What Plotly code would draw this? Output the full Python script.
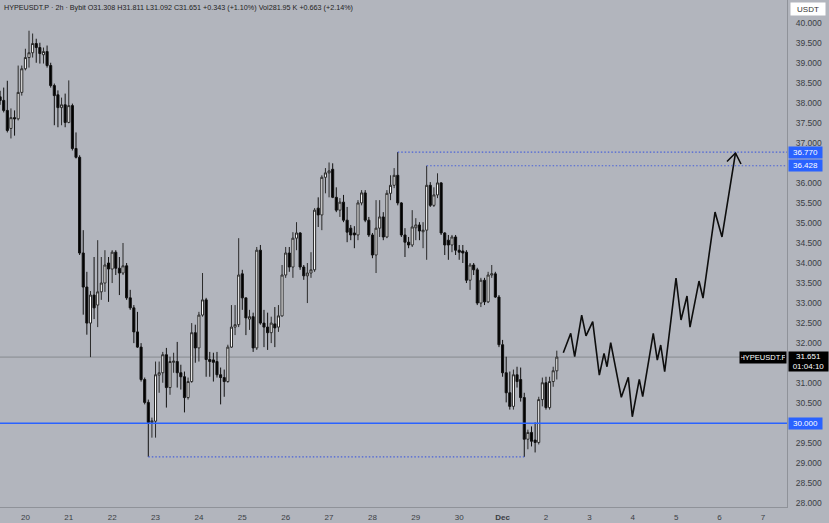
import plotly.graph_objects as go
import pandas as pd

# ---------------- data ----------------
start_time = "2025-11-19 10:00"   # first 2h candle
opens = [38.15, 38.06, 37.81, 37.36, 37.63, 37.60, 38.26, 38.85, 39.13, 39.25,
         39.48, 39.38, 39.20, 39.28, 38.93, 38.43, 38.20, 37.88, 37.95, 37.51,
         37.93, 36.86, 36.64, 34.25, 33.40, 32.50, 33.20, 32.95, 33.28, 33.50,
         34.00, 33.85, 34.27, 33.87, 33.75, 33.93, 33.13, 32.88, 32.28, 31.90,
         31.09, 30.52, 30.02, 30.05, 31.20, 31.26, 31.71, 30.89, 31.52, 31.54,
         31.26, 31.16, 30.64, 31.04, 32.26, 31.88, 32.70, 33.08, 31.59, 31.58,
         31.54, 31.21, 31.14, 31.04, 31.90, 32.40, 32.46, 33.73, 33.13, 32.60,
         32.66, 31.88, 34.32, 32.50, 32.40, 32.26, 32.48, 32.40, 32.68, 33.70,
         34.25, 33.90, 34.62, 34.75, 33.90, 33.68, 33.75, 33.83, 35.37, 35.20,
         36.14, 36.25, 36.34, 35.64, 35.32, 35.52, 35.07, 34.87, 34.75, 34.70,
         35.50, 35.75, 35.07, 34.70, 34.20, 34.87, 35.15, 34.65, 35.74, 35.94,
         36.19, 35.50, 34.70, 34.52, 34.45, 34.88, 34.95, 34.78, 34.82, 35.94,
         35.44, 35.70, 36.00, 34.75, 34.57, 34.45, 34.65, 34.32, 34.30, 34.27,
         33.57, 33.95, 33.83, 33.00, 33.57, 33.03, 33.70, 33.73, 33.15, 31.96,
         31.26, 30.76, 30.42, 31.21, 31.09, 30.64, 29.60, 29.77, 29.58, 29.52,
         30.59, 31.01, 30.39, 31.04, 31.308]
highs = [38.30, 38.38, 38.55, 37.86, 37.81, 38.93, 38.93, 39.35, 39.80, 39.73,
         39.60, 39.50, 39.38, 39.43, 39.00, 38.48, 38.31, 38.13, 38.23, 38.56,
         37.98, 37.26, 36.69, 34.82, 33.78, 33.30, 34.15, 34.57, 34.15, 34.32,
         34.15, 34.32, 34.32, 34.15, 34.50, 34.00, 33.33, 32.95, 32.78, 32.00,
         31.14, 30.59, 30.14, 31.54, 31.54, 31.78, 31.88, 31.66, 31.76, 32.03,
         31.46, 31.29, 31.14, 32.50, 32.46, 32.78, 33.75, 33.13, 31.78, 31.76,
         31.78, 31.39, 31.34, 31.96, 32.95, 32.95, 34.62, 33.83, 33.13, 32.83,
         32.76, 34.40, 34.45, 32.83, 32.76, 32.66, 32.90, 32.95, 33.95, 34.40,
         34.40, 34.77, 35.02, 34.77, 33.95, 34.00, 34.27, 35.37, 35.64, 36.19,
         36.37, 36.51, 36.49, 35.89, 35.62, 35.70, 35.40, 34.95, 34.92, 35.57,
         35.82, 35.82, 35.15, 34.75, 35.57, 35.57, 35.27, 35.82, 36.19, 36.37,
         36.77, 35.52, 34.87, 34.65, 35.32, 35.12, 35.02, 35.02, 36.428, 36.02,
         35.89, 36.24, 36.02, 34.77, 34.70, 34.70, 34.70, 34.45, 34.45, 34.32,
         34.00, 34.00, 33.88, 33.63, 33.63, 33.78, 33.95, 33.78, 33.20, 32.08,
         31.66, 31.29, 31.34, 31.41, 31.39, 30.76, 29.84, 29.92, 30.02, 30.66,
         31.14, 31.16, 31.16, 31.41, 31.811]
lows = [37.95, 37.76, 37.26, 37.11, 37.18, 37.56, 38.18, 38.81, 38.88, 39.13,
        39.00, 38.98, 38.98, 38.88, 38.38, 37.44, 37.39, 37.44, 37.39, 37.49,
        36.81, 36.61, 34.20, 32.71, 32.21, 31.65, 32.60, 32.40, 33.08, 33.28,
        33.03, 33.50, 33.70, 33.20, 33.70, 33.08, 32.83, 32.00, 31.88, 31.04,
        30.47, 29.16, 29.64, 29.64, 30.76, 31.01, 30.39, 30.71, 31.26, 30.89,
        30.84, 30.27, 30.59, 31.01, 31.51, 31.54, 32.66, 31.16, 31.16, 31.04,
        31.14, 30.47, 30.66, 31.01, 31.88, 32.20, 32.40, 32.83, 32.20, 32.33,
        31.78, 31.83, 32.46, 31.90, 31.83, 32.00, 31.90, 32.28, 32.66, 33.63,
        33.78, 33.63, 34.32, 33.83, 33.58, 33.00, 33.63, 33.78, 34.90, 34.82,
        35.74, 35.64, 35.62, 35.27, 35.15, 35.02, 34.52, 34.57, 34.37, 34.57,
        35.44, 35.02, 34.65, 34.12, 33.75, 34.65, 34.57, 34.62, 35.57, 35.87,
        35.44, 34.65, 34.15, 34.37, 34.40, 34.57, 34.57, 34.37, 34.08, 35.40,
        35.40, 35.62, 34.70, 34.20, 34.08, 34.27, 34.20, 34.08, 34.00, 33.50,
        33.33, 33.70, 32.95, 32.90, 32.95, 33.00, 33.63, 33.13, 31.90, 31.16,
        30.52, 30.34, 30.34, 30.89, 30.54, 29.16, 29.35, 29.42, 29.27, 29.47,
        30.42, 30.34, 30.34, 30.91, 31.092]
closes = [38.06, 37.81, 37.31, 37.63, 37.60, 38.26, 38.85, 39.13, 39.25, 39.48,
          39.38, 39.23, 39.28, 38.93, 38.43, 38.18, 37.88, 37.95, 37.51, 37.93,
          36.86, 36.64, 34.25, 33.40, 32.50, 33.20, 32.88, 33.28, 33.50, 33.95,
          33.85, 34.27, 33.87, 33.75, 33.93, 33.13, 32.88, 32.28, 31.90, 31.09,
          30.52, 30.02, 30.06, 31.21, 31.26, 31.71, 30.89, 31.54, 31.55, 31.26,
          31.16, 30.64, 31.04, 32.26, 31.88, 32.70, 33.08, 31.59, 31.54, 31.52,
          31.21, 31.14, 31.04, 31.90, 32.40, 32.46, 33.70, 33.13, 32.63, 32.66,
          31.88, 34.32, 32.50, 32.40, 32.26, 32.50, 32.38, 32.68, 33.70, 34.25,
          33.90, 34.62, 34.75, 33.90, 33.68, 33.75, 33.83, 35.32, 35.20, 36.14,
          36.25, 36.30, 35.64, 35.32, 35.52, 35.07, 34.77, 34.70, 34.70, 35.50,
          35.75, 35.07, 34.70, 34.20, 34.87, 35.15, 34.65, 35.74, 35.94, 36.19,
          35.50, 34.70, 34.52, 34.45, 34.90, 34.95, 34.80, 34.82, 35.94, 35.44,
          35.70, 36.00, 34.75, 34.45, 34.45, 34.65, 34.32, 34.27, 34.25, 33.57,
          33.95, 33.83, 33.00, 33.57, 33.03, 33.70, 33.73, 33.15, 31.96, 31.26,
          30.76, 30.42, 31.21, 31.04, 30.64, 29.60, 29.77, 29.55, 29.52, 30.59,
          31.01, 30.39, 31.04, 31.31, 31.651]

# hand-drawn projection path (time, price)
proj_times = ["2025-12-02 09:36", "2025-12-02 13:42", "2025-12-02 15:53", "2025-12-02 19:46",
              "2025-12-02 22:09", "2025-12-03 01:52", "2025-12-03 05:31", "2025-12-03 08:07",
              "2025-12-03 09:46", "2025-12-03 11:49", "2025-12-03 17:41", "2025-12-03 21:33",
              "2025-12-03 23:46", "2025-12-04 03:38", "2025-12-04 05:31", "2025-12-04 11:22",
              "2025-12-04 13:36", "2025-12-04 15:29", "2025-12-04 17:41", "2025-12-04 23:57",
              "2025-12-05 02:43", "2025-12-05 06:02", "2025-12-05 07:41", "2025-12-05 12:40",
              "2025-12-05 14:53", "2025-12-05 21:32", "2025-12-06 01:23", "2025-12-06 08:51"]
proj_prices = [31.76, 32.245, 31.66, 32.70, 32.18, 32.535, 31.20, 31.745,
               31.41, 32.01, 30.646, 31.146, 30.162, 31.096, 30.662, 32.245,
               31.578, 31.953, 31.286, 33.625, 32.577, 33.176, 32.40, 33.55,
               33.126, 35.273, 34.65, 36.747]
arrow_times = ["2025-12-06 04:09", "2025-12-06 08:51", "2025-12-06 11:54"]
arrow_prices = [36.535, 36.747, 36.472]

# levels
level_high = 36.770
level_high_from = 110      # candle index where the level starts
level_mid = 36.428
level_mid_from = 118
level_low = 29.16
level_low_from, level_low_to = 41, 145
support_level = 30.000
last_price = 31.651

x_tick_vals = ["2025-11-20", "2025-11-21", "2025-11-22", "2025-11-23", "2025-11-24",
               "2025-11-25", "2025-11-26", "2025-11-27", "2025-11-28", "2025-11-29",
               "2025-11-30", "2025-12-01", "2025-12-02", "2025-12-03", "2025-12-04",
               "2025-12-05", "2025-12-06", "2025-12-07"]
x_tick_text = ["20", "21", "22", "23", "24", "25", "26", "27", "28", "29", "30",
               "<b>Dec</b>", "2", "3", "4", "5", "6", "7"]
y_tick_vals = [28.0, 28.5, 29.0, 29.5, 30.5, 31.0, 32.0, 32.5, 33.0, 33.5, 34.0,
               34.5, 35.0, 35.5, 36.0, 37.0, 37.5, 38.0, 38.5, 39.0, 39.5, 40.0]
y_tick_text = ["28.000", "28.500", "29.000", "29.500", "30.500", "31.000", "32.000",
               "32.500", "33.000", "33.500", "34.000", "34.500", "35.000", "35.500",
               "36.000", "37.000", "37.500", "38.000", "38.500", "39.000", "39.500",
               "40.000"]
x_range = ["2025-11-19 09:57", "2025-12-07 13:21"]
y_range = [27.908, 40.567]

header_text = ("HYPEUSDT.P · 2h · Bybit O31.308 H31.811 L31.092 C31.651 +0.343 (+1.10%) "
               "Vol281.95 K +0.663 (+2.14%)")

# ---------------- figure ----------------
BG = "#b2b5bd"
BLUE = "#2962ff"
FONT = "Liberation Sans"

candle_times = pd.date_range(start_time, periods=len(closes), freq="2h")

fig = go.Figure()
fig.add_trace(go.Candlestick(
    x=candle_times, open=opens, high=highs, low=lows, close=closes,
    increasing=dict(line=dict(color="#2a2a2a", width=1), fillcolor="#ffffff"),
    decreasing=dict(line=dict(color="#111111", width=1), fillcolor="#000000"),
    whiskerwidth=0, hoverinfo="skip", showlegend=False))

fig.add_trace(go.Scatter(x=proj_times, y=proj_prices, mode="lines",
                         line=dict(color="#0d0d0d", width=1.6), showlegend=False,
                         hoverinfo="skip"))
fig.add_trace(go.Scatter(x=arrow_times, y=arrow_prices, mode="lines",
                         line=dict(color="#0d0d0d", width=1.6), showlegend=False,
                         hoverinfo="skip"))

DOT = "#4a62d8"
DOT_DASH = "1.5px,2px"
shapes = [
    dict(type="line", xref="paper", x0=0, x1=1, yref="y", y0=last_price, y1=last_price,
         line=dict(color="#878a90", width=1), layer="below"),
    dict(type="line", xref="paper", x0=0, x1=1, yref="y", y0=support_level, y1=support_level,
         line=dict(color=BLUE, width=1.5), layer="above"),
    dict(type="line", xref="x", x0=candle_times[level_high_from], x1=x_range[1], yref="y",
         y0=level_high, y1=level_high, line=dict(color=DOT, width=1.2, dash=DOT_DASH)),
    dict(type="line", xref="x", x0=candle_times[level_mid_from], x1=x_range[1], yref="y",
         y0=level_mid, y1=level_mid, line=dict(color=DOT, width=1.2, dash=DOT_DASH)),
    dict(type="line", xref="x", x0=candle_times[level_low_from], x1=candle_times[level_low_to],
         yref="y", y0=level_low, y1=level_low, line=dict(color=DOT, width=1.2, dash=DOT_DASH)),
]

def price_box(y, text, bg, width=31, height=9, yshift=0):
    return dict(xref="paper", x=1, xanchor="left", xshift=1, yref="y", y=y,
                yanchor="middle", yshift=yshift, text=text, showarrow=False,
                font=dict(family=FONT, size=8, color="#ffffff"), bgcolor=bg,
                width=width, height=height, borderpad=1, align="center")

annotations = [
    dict(xref="paper", x=0, xanchor="left", xshift=2, yref="paper", y=1, yanchor="top",
         yshift=-1, text=header_text, showarrow=False,
         font=dict(family=FONT, size=7.2, color="#222222")),
    dict(xref="paper", x=1, xanchor="left", xshift=3, yref="paper", y=1, yanchor="top",
         yshift=-2, text="USDT", showarrow=False, bgcolor="#ffffff",
         font=dict(family=FONT, size=8, color="#333333"), width=32, height=10, borderpad=1),
    price_box(level_high, "36.770", BLUE),
    price_box(level_mid, "36.428", BLUE),
    price_box(support_level, "30.000", BLUE),
    price_box(last_price, "31.651<br>01:04:10", "#000000", width=37, height=17, yshift=-4),
    dict(xref="paper", x=1, xanchor="right", xshift=0, yref="y", y=last_price,
         yanchor="middle", text="HYPEUSDT.P", showarrow=False, bgcolor="#000000",
         font=dict(family=FONT, size=7.5, color="#ffffff"), width=44, height=9, borderpad=1),
]

fig.update_layout(
    width=829, height=523,
    margin=dict(l=0, r=42, t=0, b=16),
    paper_bgcolor=BG, plot_bgcolor=BG,
    shapes=shapes, annotations=annotations,
    showlegend=False, boxgap=0.18,
    xaxis=dict(type="date", range=x_range, rangeslider=dict(visible=False),
               showgrid=False, zeroline=False, showline=True, linecolor="#8f9299",
               linewidth=1, ticks="", tickvals=x_tick_vals, ticktext=x_tick_text,
               tickfont=dict(family=FONT, size=8, color="#3a3d44"), ticklabelstandoff=2),
    yaxis=dict(side="right", range=y_range, showgrid=False, zeroline=False,
               showline=True, linecolor="#8f9299", linewidth=1, ticks="",
               tickvals=y_tick_vals, ticktext=y_tick_text,
               tickfont=dict(family=FONT, size=8.5, color="#3a3d44"), ticklabelstandoff=6),
)

fig.write_html("out.html", config={"displayModeBar": False},
               post_script="document.body.style.margin='0';document.body.style.overflow='hidden';")
